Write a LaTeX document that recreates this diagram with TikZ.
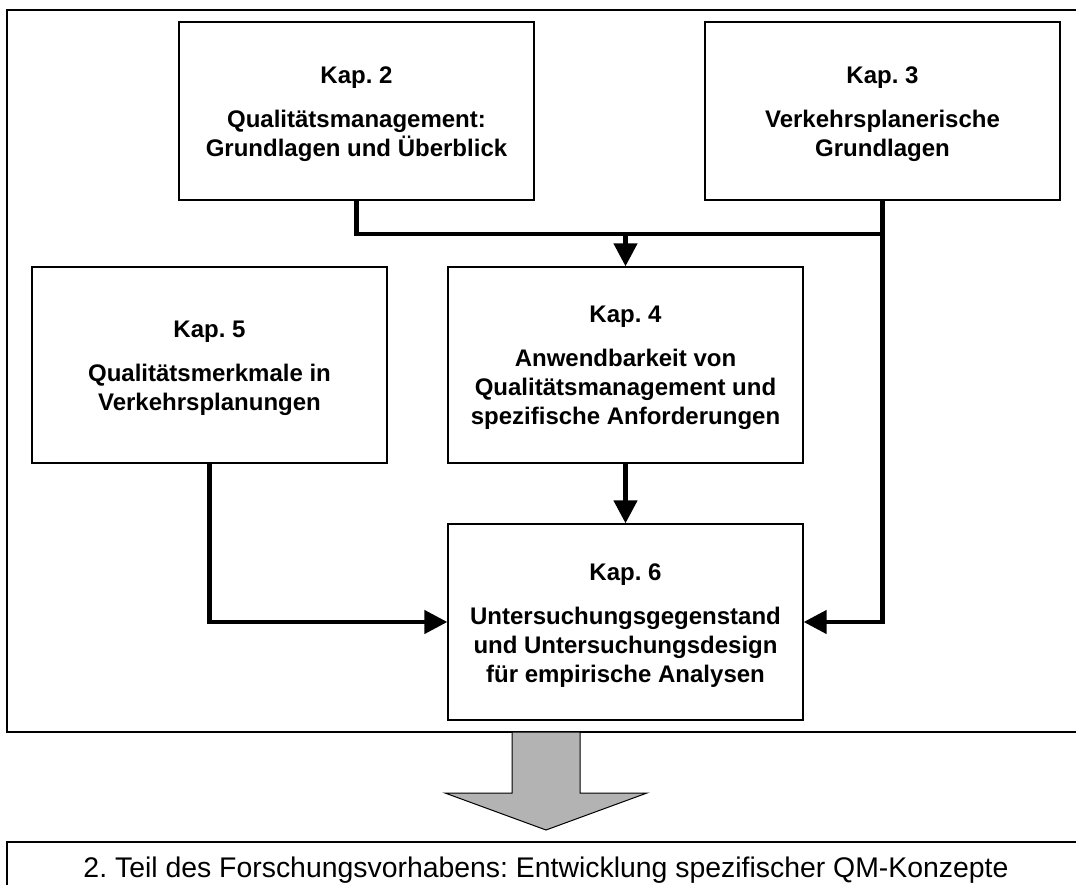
\documentclass[tikz,border=0pt]{standalone}
\usepackage{fontspec}
\setmainfont{Liberation Sans}
\usetikzlibrary{arrows.meta}
\definecolor{arrowgray}{RGB}{179,179,179}
\frenchspacing
\begin{document}
\begin{tikzpicture}[x=1pt,y=-1pt,
  chap/.style={draw=black, line width=1.3pt, minimum width=355pt,
    minimum height=196pt, inner sep=0pt, align=center,
    font=\fontsize{24}{29}\selectfont\bfseries},
  conn/.style={line width=4.5pt},
  arr/.style={conn, -{Triangle[length=23pt,width=23pt]}},
  frameline/.style={line width=1.3pt}]
\useasboundingbox (0,0) rectangle (1076,885);

% outer frame of the first part
\draw[frameline] (1076,10) -- (7,10) -- (7,732) -- (1076,732);

% chapter boxes
\node[chap, minimum height=178pt] (k2) at (356.5,111)
  {\rule{0pt}{23pt}Kap. 2\\[15pt]Qualitätsmanagement:\\Grundlagen und Überblick};
\node[chap, minimum height=178pt] (k3) at (882.5,111)
  {\rule{0pt}{23pt}Kap. 3\\[15pt]Verkehrsplanerische\\Grundlagen};
\node[chap] (k5) at (209.5,365)
  {\rule{0pt}{23pt}Kap. 5\\[15pt]Qualitätsmerkmale in\\Verkehrsplanungen};
\node[chap] (k4) at (625.5,365)
  {\rule{0pt}{23pt}Kap. 4\\[15pt]Anwendbarkeit von\\Qualitätsmanagement und\\spezifische Anforderungen};
\node[chap] (k6) at (625.5,622)
  {\rule{0pt}{23pt}Kap. 6\\[15pt]Untersuchungsgegenstand\\und Untersuchungsdesign\\für empirische Analysen};

% connectors
\coordinate (bus) at (625.5,234);
\draw[conn] (k2.south) |- (bus) -| (k3.south);
\draw[arr] (bus) -- (k4.north);
\draw[arr] (k4.south) -- (k6.north);
\draw[arr] (k5.south) |- (k6.west);
\draw[arr] (k3.south) |- (k6.east);

% transition arrow to the second part
\draw[line width=1pt, fill=arrowgray] (512,732) -- (580,732) -- (580,793)
  -- (647,793) -- (546,830) -- (445,793) -- (512,793) -- cycle;

% second part
\draw[frameline] (1076,842) -- (7,842) -- (7,885);
\node[anchor=base, inner sep=0pt, font=\fontsize{28.4}{34}\selectfont] (part2) at (546,877)
  {2. Teil des Forschungsvorhabens: Entwicklung spezifischer QM-Konzepte};
\end{tikzpicture}
\end{document}
